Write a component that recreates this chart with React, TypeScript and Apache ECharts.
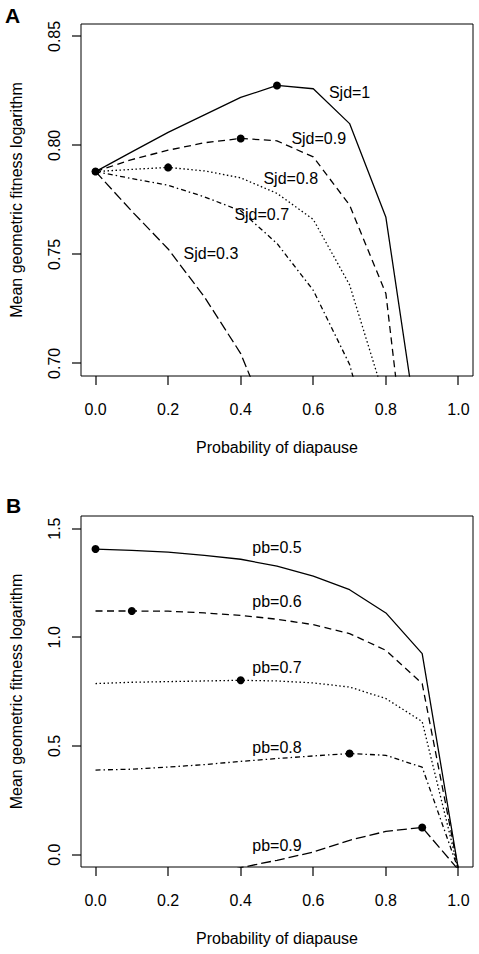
import React, { useEffect, useRef } from "react";
import * as echarts from "echarts";

const xValues = [0, 0.1, 0.2, 0.3, 0.4, 0.5, 0.6, 0.7, 0.8, 0.9, 1.0];
const xTicks = [0, 0.2, 0.4, 0.6, 0.8, 1.0];

// Panel A
const sjd1 = [0.788, 0.797, 0.806, 0.814, 0.822, 0.8275, 0.826, 0.81, 0.767, 0.655];
const sjd09 = [0.788, 0.7935, 0.7978, 0.8012, 0.8032, 0.8021, 0.7947, 0.7726, 0.732, 0.59];
const sjd08 = [0.788, 0.789, 0.7899, 0.7883, 0.7851, 0.778, 0.766, 0.736, 0.682];
const sjd07 = [0.788, 0.7848, 0.7817, 0.7764, 0.77, 0.755, 0.7335, 0.6995, 0.64];
const sjd03 = [0.788, 0.7698, 0.7525, 0.7305, 0.7045, 0.664];
const maxA = [[0, 0.788], [0.2, 0.7899], [0.4, 0.8032], [0.5, 0.8275]];
const labelsA = [
  [0.7, 0.8245, "Sjd=1"],
  [0.615, 0.8033, "Sjd=0.9"],
  [0.538, 0.785, "Sjd=0.8"],
  [0.458, 0.7684, "Sjd=0.7"],
  [0.318, 0.7504, "Sjd=0.3"],
];
const yTicksA = [0.7, 0.75, 0.8, 0.85];

// Panel B
const pb05 = [1.406, 1.4, 1.392, 1.377, 1.359, 1.327, 1.281, 1.219, 1.112, 0.925, -0.07];
const pb06 = [1.121, 1.121, 1.12, 1.112, 1.101, 1.083, 1.058, 1.017, 0.94, 0.787, -0.07];
const pb07 = [0.787, 0.793, 0.796, 0.799, 0.802, 0.799, 0.79, 0.771, 0.718, 0.612, -0.07];
const pb08 = [0.389, 0.393, 0.403, 0.414, 0.429, 0.442, 0.454, 0.465, 0.457, 0.402, -0.07];
const pb09 = [-0.16, -0.15, -0.13, -0.1, -0.06, -0.026, 0.012, 0.066, 0.107, 0.125, -0.07];
const maxB = [[0, 1.406], [0.1, 1.121], [0.4, 0.802], [0.7, 0.465], [0.9, 0.125]];
const labelsB = [
  [0.5, 1.413, "pb=0.5"],
  [0.5, 1.166, "pb=0.6"],
  [0.5, 0.863, "pb=0.7"],
  [0.5, 0.491, "pb=0.8"],
  [0.5, 0.04, "pb=0.9"],
];
const yTicksB = [0, 0.5, 1.0, 1.5];

const X_MIN = -0.04;
const X_MAX = 1.04;
const Y_RANGE_A = [0.6942, 0.8557];
const Y_RANGE_B = [-0.057, 1.558];

const FONT = "'Liberation Sans', Arial, sans-serif";

const DASHED = [7, 4.5];
const DOTTED = [1.5, 2.5];
const DOTDASH = [5, 3, 1.5, 3];
const LONGDASH = [10, 4];
const TICK_LEN = 9;

function lineSeries(vals: number[], dash: any, gi: number) {
  return {
    type: "line",
    xAxisIndex: gi,
    yAxisIndex: gi,
    data: vals.map((v, i) => [xValues[i], v]),
    showSymbol: false,
    symbol: "none",
    clip: true,
    lineStyle: { color: "#000", width: 1.3, type: dash, cap: "butt", opacity: 1 },
    silent: true,
    z: 2,
  };
}

function dotSeries(pts: number[][], gi: number) {
  return {
    type: "scatter",
    xAxisIndex: gi,
    yAxisIndex: gi,
    data: pts,
    symbol: "circle",
    symbolSize: 8,
    itemStyle: { color: "#000", opacity: 1 },
    silent: true,
    z: 3,
  };
}

function labelSeries(lbls: any[], gi: number) {
  return {
    type: "scatter",
    xAxisIndex: gi,
    yAxisIndex: gi,
    data: lbls,
    symbolSize: 0,
    silent: true,
    z: 4,
    itemStyle: { opacity: 1 },
    label: {
      show: true,
      position: "inside",
      formatter: (p: any) => p.data[2],
      color: "#000",
      opacity: 1,
      fontSize: 16,
      fontFamily: FONT,
    },
  };
}

function xAxis(gi: number) {
  return {
    type: "value",
    gridIndex: gi,
    min: X_MIN,
    max: X_MAX,
    name: "Probability of diapause",
    nameLocation: "middle",
    nameGap: 63,
    nameTextStyle: { color: "#000", fontSize: 16, fontFamily: FONT },
    axisLine: { show: false, onZero: false },
    splitLine: { show: false },
    axisTick: { show: false },
    axisLabel: {
      show: true,
      customValues: xTicks,
      margin: 25,
      color: "#000",
      fontSize: 16,
      fontFamily: FONT,
      formatter: (v: number) => v.toFixed(1),
    },
  };
}

function yAxis(gi: number, range: number[], ticks: number[], dec: number) {
  return {
    type: "value",
    gridIndex: gi,
    min: range[0],
    max: range[1],
    name: "Mean geometric fitness logarithm",
    nameLocation: "middle",
    nameGap: 57,
    nameRotate: 90,
    nameTextStyle: { color: "#000", fontSize: 16, fontFamily: FONT },
    axisLine: { show: false, onZero: false },
    splitLine: { show: false },
    axisTick: { show: false },
    axisLabel: {
      show: true,
      customValues: ticks,
      rotate: 90,
      margin: 19,
      color: "#000",
      fontSize: 16,
      fontFamily: FONT,
      formatter: (v: number) => v.toFixed(dec),
    },
  };
}

export default function App() {
  const ref = useRef<HTMLDivElement>(null);
  useEffect(() => {
    if (!ref.current) return;
    const chart = echarts.init(ref.current, null, { renderer: "svg" });
    chart.setOption({
      animation: false,
      backgroundColor: "#fff",
      textStyle: { fontFamily: FONT },
      grid: [
        { left: 80, top: 24, width: 393, height: 352, show: true, borderColor: "#000", borderWidth: 1, backgroundColor: "transparent" },
        { left: 80, top: 516, width: 393, height: 351, show: true, borderColor: "#000", borderWidth: 1, backgroundColor: "transparent" },
      ],
      xAxis: [xAxis(0), xAxis(1)],
      yAxis: [yAxis(0, Y_RANGE_A, yTicksA, 2), yAxis(1, Y_RANGE_B, yTicksB, 1)],
      series: [
        lineSeries(sjd1, "solid", 0),
        lineSeries(sjd09, DASHED, 0),
        lineSeries(sjd08, DOTTED, 0),
        lineSeries(sjd07, DOTDASH, 0),
        lineSeries(sjd03, LONGDASH, 0),
        dotSeries(maxA, 0),
        labelSeries(labelsA, 0),
        lineSeries(pb05, "solid", 1),
        lineSeries(pb06, DASHED, 1),
        lineSeries(pb07, DOTTED, 1),
        lineSeries(pb08, DOTDASH, 1),
        lineSeries(pb09, LONGDASH, 1),
        dotSeries(maxB, 1),
        labelSeries(labelsB, 1),
      ],
    });

    // tick marks as thin filled rects, placed through the axes' own scales
    const tickEls: any[] = [];
    const panels = [
      { gi: 0, yMin: Y_RANGE_A[0], yTicks: yTicksA },
      { gi: 1, yMin: Y_RANGE_B[0], yTicks: yTicksB },
    ];
    panels.forEach(({ gi, yMin, yTicks }) => {
      xTicks.forEach((v) => {
        const p = chart.convertToPixel({ gridIndex: gi }, [v, yMin]) as number[];
        tickEls.push({
          type: "rect",
          silent: true,
          z: 100,
          shape: { x: Math.round(p[0]) - 0.6, y: p[1], width: 1.2, height: TICK_LEN },
          style: { fill: "#000" },
        });
      });
      yTicks.forEach((v) => {
        const p = chart.convertToPixel({ gridIndex: gi }, [X_MIN, v]) as number[];
        tickEls.push({
          type: "rect",
          silent: true,
          z: 100,
          shape: { x: p[0] - TICK_LEN, y: Math.round(p[1]) - 0.6, width: TICK_LEN, height: 1.2 },
          style: { fill: "#000" },
        });
      });
    });

    chart.setOption({
      graphic: [
        { type: "text", left: 5, top: 5, style: { text: "A", fontSize: 21, fontWeight: "bold", fontFamily: FONT, fill: "#000" } },
        { type: "text", left: 6, top: 495, style: { text: "B", fontSize: 21, fontWeight: "bold", fontFamily: FONT, fill: "#000" } },
        ...tickEls,
      ],
    });
    return () => chart.dispose();
  }, []);
  return (
    <div
      ref={ref}
      style={{ position: "fixed", left: 0, top: 0, width: 479, height: 954, background: "#fff" }}
    />
  );
}
